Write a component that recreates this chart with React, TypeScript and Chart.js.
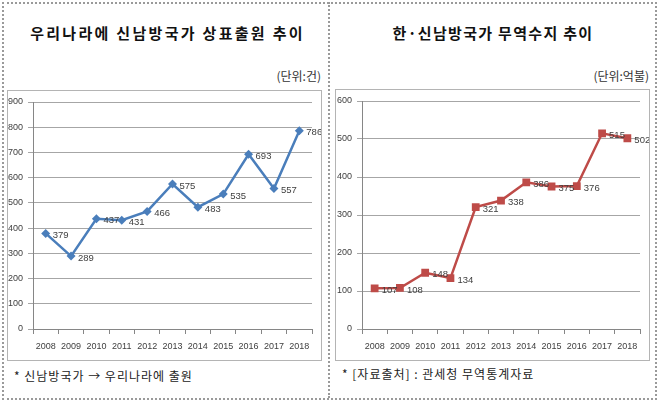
import React, { useEffect, useRef } from "react";
import { Chart, registerables } from "chart.js";

Chart.register(...registerables);

const years = ["2008", "2009", "2010", "2011", "2012", "2013", "2014", "2015", "2016", "2017", "2018"];
const trademarkFilings = [379, 289, 437, 431, 466, 575, 483, 535, 693, 557, 786];
const tradeBalance = [107, 108, 148, 134, 321, 338, 386, 375, 376, 515, 502];

const leftTitle = "우리나라에 신남방국가 상표출원 추이";
const rightTitle = "한·신남방국가 무역수지 추이";
const leftUnit = "(단위:건)";
const rightUnit = "(단위:억불)";
const leftNote = "* 신남방국가 → 우리나라에 출원";
const rightNote = "* [자료출처] : 관세청 무역통계자료";

const NUM_FONT = "'Liberation Sans', Arial, sans-serif";
const KR_FONT = "'Noto Sans CJK KR', 'Noto Sans', sans-serif";

const valueLabels = {
  id: "valueLabels",
  afterDatasetsDraw(chart: any) {
    const ctx = chart.ctx;
    chart.data.datasets.forEach((ds: any, i: number) => {
      const meta = chart.getDatasetMeta(i);
      meta.data.forEach((pt: any, j: number) => {
        ctx.save();
        ctx.font = `9.5px ${NUM_FONT}`;
        ctx.fillStyle = "#404040";
        ctx.textAlign = "left";
        ctx.textBaseline = "middle";
        ctx.fillText(String(ds.data[j]), pt.x + 7, pt.y + 2);
        ctx.restore();
      });
    });
  },
};

type ChartProps = {
  values: number[];
  max: number;
  color: string;
  pointStyle: string;
  pointRadius: number;
  yWidth: number;
  padTop: number;
  padRight: number;
  xHeight: number;
  width: number;
  height: number;
};

function LineChart(p: ChartProps) {
  const ref = useRef<HTMLCanvasElement | null>(null);
  useEffect(() => {
    if (!ref.current) return;
    const chart = new Chart(ref.current, {
      type: "line",
      data: {
        labels: years,
        datasets: [
          {
            data: p.values,
            borderColor: p.color,
            backgroundColor: p.color,
            borderWidth: 2.5,
            pointStyle: p.pointStyle as any,
            pointRadius: p.pointRadius,
            pointBorderWidth: 0,
            tension: 0,
          },
        ],
      },
      options: {
        responsive: false,
        animation: false,
        layout: { padding: { top: p.padTop, right: p.padRight, left: 0, bottom: 0 } },
        plugins: { legend: { display: false }, tooltip: { enabled: false }, title: { display: false } },
        scales: {
          x: {
            offset: true,
            grid: { display: true, drawOnChartArea: false, offset: true, tickLength: 5, color: "#868686" },
            border: { display: true, color: "#868686" },
            ticks: { font: { family: NUM_FONT, size: 9 }, color: "#404040", padding: 7, maxRotation: 0, autoSkip: false },
            afterFit(scale: any) {
              scale.height = p.xHeight;
            },
          },
          y: {
            min: 0,
            max: p.max,
            grid: { color: "#a6a6a6", tickLength: 5, lineWidth: 1 },
            border: { display: true, color: "#868686" },
            ticks: { stepSize: 100, font: { family: NUM_FONT, size: 9 }, color: "#404040", padding: 5 },
            afterFit(scale: any) {
              scale.width = p.yWidth;
            },
          },
        },
      },
      plugins: [valueLabels],
    });
    return () => chart.destroy();
  }, []);
  return <canvas ref={ref} width={p.width} height={p.height} style={{ width: p.width, height: p.height, display: "block" }} />;
}

export default function App() {
  useEffect(() => {
    document.body.style.margin = "0";
  }, []);
  const abs = (s: React.CSSProperties): React.CSSProperties => ({ position: "absolute", ...s });
  return (
    <div style={{ position: "absolute", left: 0, top: 0, width: 658, height: 401, background: "#fff", fontFamily: KR_FONT, overflow: "hidden" }}>
      {/* outer dotted frame */}
      <div style={abs({ left: 2, top: 2, width: 651, height: 394, border: "2px dotted #9a9a9a" })} />
      <div style={abs({ left: 328, top: 2, width: 0, height: 396, borderLeft: "2px dotted #9a9a9a" })} />

      {/* titles */}
      <div style={abs({ left: 4, top: 22, width: 327, textAlign: "center", fontSize: 15, fontWeight: 700, color: "#111", lineHeight: "22px", letterSpacing: "2.3px", whiteSpace: "nowrap" })}>{leftTitle}</div>
      <div style={abs({ left: 330, top: 22, width: 326, textAlign: "center", fontSize: 15, fontWeight: 700, color: "#111", lineHeight: "22px", letterSpacing: "1.3px", whiteSpace: "nowrap" })}>{rightTitle}</div>

      {/* units */}
      <div style={abs({ left: 200, top: 68, width: 121, textAlign: "right", fontSize: 12, color: "#333", lineHeight: "16px" })}>{leftUnit}</div>
      <div style={abs({ left: 520, top: 68, width: 129, textAlign: "right", fontSize: 12, color: "#333", lineHeight: "16px" })}>{rightUnit}</div>

      {/* charts */}
      <div style={abs({ left: 7, top: 90 })}>
        <LineChart values={trademarkFilings} max={900} color="#4a7ebb" pointStyle="rectRot" pointRadius={4.5}
          yWidth={26} padTop={12} padRight={15} xHeight={32} width={320} height={271} />
      </div>
      <div style={abs({ left: 335, top: 89 })}>
        <LineChart values={tradeBalance} max={600} color="#be4b48" pointStyle="rect" pointRadius={5.5}
          yWidth={27} padTop={12} padRight={15} xHeight={32} width={320} height={272} />
      </div>

      {/* chart boxes */}
      <div style={abs({ left: 7, top: 90, width: 313, height: 269, border: "1px solid #b4b4b4", pointerEvents: "none" })} />
      <div style={abs({ left: 335, top: 89, width: 313, height: 270, border: "1px solid #b4b4b4", pointerEvents: "none" })} />

      {/* footnotes */}
      <div style={abs({ left: 14, top: 367, fontSize: 12, color: "#222", lineHeight: "18px", whiteSpace: "nowrap", letterSpacing: "1px" })}>{leftNote}</div>
      <div style={abs({ left: 342, top: 365, fontSize: 12, color: "#222", lineHeight: "18px", whiteSpace: "nowrap", letterSpacing: "1px" })}>{rightNote}</div>
    </div>
  );
}
